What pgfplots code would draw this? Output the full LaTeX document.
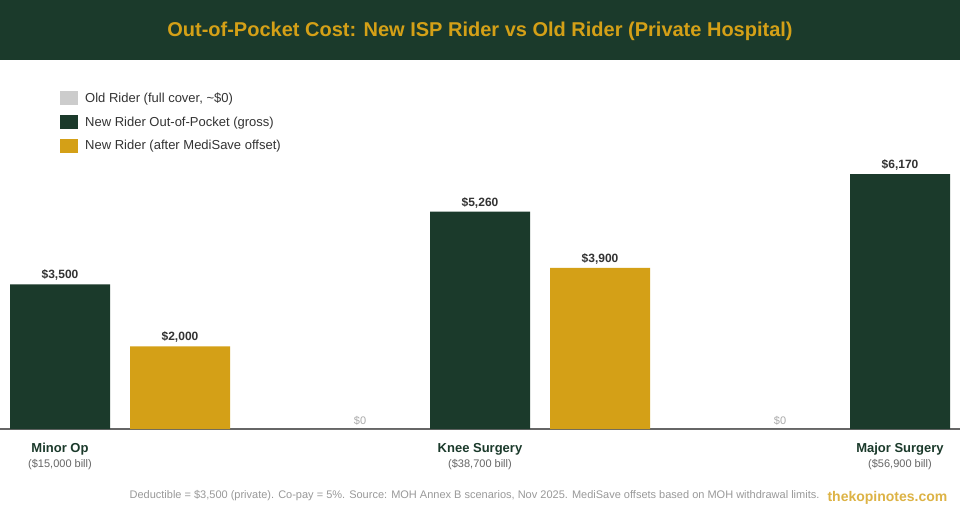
\documentclass[border=0pt]{standalone}
\usepackage{pgfplots}
\pgfplotsset{compat=1.18}
\usepackage{fontspec}
\setmainfont{Liberation Sans}
\definecolor{dkgreen}{HTML}{1B3A2B}
\definecolor{gold}{HTML}{D4A017}
\definecolor{oldgray}{HTML}{CCCCCC}
\definecolor{txt}{HTML}{333333}
\definecolor{subtxt}{HTML}{666666}
\definecolor{foot}{HTML}{999999}
\definecolor{zerotxt}{HTML}{AAAAAA}
\begin{document}
\begin{tikzpicture}
\useasboundingbox (0pt,0pt) rectangle (960pt,-520pt);
\clip (0pt,0pt) rectangle (960pt,-520pt);
\fill[white] (0pt,0pt) rectangle (960pt,-520pt);
\fill[dkgreen] (0pt,0pt) rectangle (960pt,-60pt);
\node[text=gold, font=\fontsize{20}{24}\selectfont\bfseries] at (480pt,-31pt) {Out-of-Pocket Cost: New ISP Rider vs Old Rider (Private Hospital)};
\begin{axis}[
  at={(0pt,-429pt)}, anchor=south west,
  scale only axis, width=960pt, height=369pt,
  xmin=-0.142857, xmax=2.142857,
  ymin=0, ymax=8928,
  ybar=20pt, bar width=100pt,
  axis y line=none,
  axis x line*=bottom,
  x axis line style={draw=subtxt, line width=2pt, -},
  xtick={0,1,2}, major tick length=0pt,
  /pgf/number format/assume math mode=true,
  xticklabel style={align=center, yshift=-11pt},
  xticklabels={
    {{\fontsize{13}{18}\selectfont\bfseries\color{dkgreen}Minor Op}\\[3pt]{\fontsize{11}{14}\selectfont\color{subtxt}(\$15,000 bill)}},
    {{\fontsize{13}{18}\selectfont\bfseries\color{dkgreen}Knee Surgery}\\[3pt]{\fontsize{11}{14}\selectfont\color{subtxt}(\$38,700 bill)}},
    {{\fontsize{13}{18}\selectfont\bfseries\color{dkgreen}Major Surgery}\\[3pt]{\fontsize{11}{14}\selectfont\color{subtxt}(\$56,900 bill)}}},
  nodes near coords={\$\pgfmathprintnumber[fixed, 1000 sep={,}, assume math mode=true]{\pgfplotspointmeta}},
  nodes near coords style={font=\fontsize{12}{14}\selectfont\bfseries, text=txt},
  legend image code/.code={\fill[#1] (0pt,-7pt) rectangle (18pt,7pt);},
  legend cell align=left,
  legend style={at={(axis description cs:0.0625,0.918)}, anchor=north west, draw=none, fill=none,
    inner sep=0pt, font=\fontsize{13}{16}\selectfont, text=txt, row sep=9pt,
    nodes={inner xsep=7pt}},
]
\addplot[fill=oldgray, draw=none, nodes near coords style={font=\fontsize{11}{13}\selectfont, text=zerotxt}] coordinates {(1,0) (2,0)};
\addplot[fill=dkgreen, draw=none] coordinates {(0,3500) (1,5260) (2,6170)};
\addplot[fill=gold, draw=none] coordinates {(0,2000) (1,3900)};
\legend{{Old Rider (full cover, \textasciitilde\$0)}, {New Rider Out-of-Pocket (gross)}, {New Rider (after MediSave offset)}}
\end{axis}
\node[anchor=east, text=foot, font=\fontsize{11}{13}\selectfont] at (823pt,-496pt) {Deductible = \$3,500 (private). Co-pay = 5\%. Source: MOH Annex B scenarios, Nov 2025. MediSave offsets based on MOH withdrawal limits.};
\node[anchor=west, text=gold!80, font=\fontsize{14}{16}\selectfont\bfseries] at (824pt,-498pt) {thekopinotes.com};
\end{tikzpicture}
\end{document}
